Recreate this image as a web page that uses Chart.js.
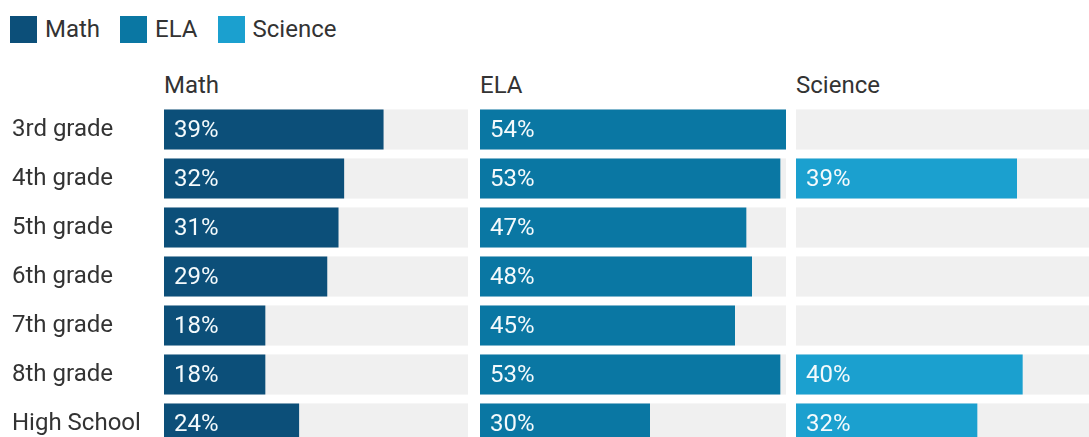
<!DOCTYPE html>
<html lang="en">
  <head>
    <meta charset="UTF-8" />
    <title>Proficiency by grade</title>
    <script src="https://cdn.jsdelivr.net/npm/chart.js"></script>
    <style>
      body {
        margin: 0;
        background: #fff;
        font-family: Roboto, "Open Sans", sans-serif;
      }
      .wrap {
        position: relative;
        width: 1089px;
        height: 437px;
        overflow: hidden;
        background: #fff;
      }
      .legend {
        position: absolute;
        left: 10px;
        top: 15px;
        display: flex;
        align-items: center;
        font-size: 24px;
        color: #333;
      }
      .legend-item {
        display: flex;
        align-items: center;
        margin-right: 20px;
      }
      .legend-dot {
        width: 27px;
        height: 27px;
        margin-right: 8px;
      }
      .panel-title {
        position: absolute;
        top: 71px;
        font-size: 24px;
        color: #333;
      }
      .panel {
        position: absolute;
        top: 105px;
        height: 343px;
      }
    </style>
  </head>
  <body>
    <div class="wrap">
      <div class="legend" id="legend"></div>
      <div class="panel-title" style="left: 164px">Math</div>
      <div class="panel-title" style="left: 480px">ELA</div>
      <div class="panel-title" style="left: 796px">Science</div>
      <div class="panel" style="left: 0px; width: 468px">
        <canvas id="mathChart"></canvas>
      </div>
      <div class="panel" style="left: 480px; width: 306px">
        <canvas id="elaChart"></canvas>
      </div>
      <div class="panel" style="left: 796px; width: 306px">
        <canvas id="scienceChart"></canvas>
      </div>
    </div>

    <script>
      var grades = [
        "3rd grade",
        "4th grade",
        "5th grade",
        "6th grade",
        "7th grade",
        "8th grade",
        "High School",
      ];
      var mathValues = [39, 32, 31, 29, 18, 18, 24];
      var elaValues = [54, 53, 47, 48, 45, 53, 30];
      var scienceValues = [null, 39, null, null, null, 40, 32];
      var subjects = ["Math", "ELA", "Science"];
      var subjectColors = ["#0c4f79", "#0a77a3", "#1ba0cf"];
      var scaleMax = 54;

      var barPct = 0.82;
      var labelFont = { family: "Roboto", size: 24 };

      // html legend
      var legend = document.getElementById("legend");
      subjects.forEach(function (name, i) {
        var item = document.createElement("div");
        item.className = "legend-item";
        item.innerHTML =
          '<span class="legend-dot" style="background-color:' +
          subjectColors[i] +
          '"></span><span>' +
          name +
          "</span>";
        legend.appendChild(item);
      });

      // grey track behind each row
      var trackPlugin = {
        id: "track",
        beforeDatasetsDraw: function (chart) {
          var ctx = chart.ctx;
          var x = chart.scales.x;
          var y = chart.scales.y;
          var slot = (y.bottom - y.top) / grades.length;
          var h = slot * barPct;
          ctx.save();
          ctx.fillStyle = "#f0f0f0";
          grades.forEach(function (g, i) {
            var yc = y.getPixelForValue(i);
            ctx.fillRect(x.left, yc - h / 2, x.right - x.left, h);
          });
          ctx.restore();
        },
      };

      // value labels inside the bars
      var valuePlugin = {
        id: "values",
        afterDatasetsDraw: function (chart) {
          var ctx = chart.ctx;
          var meta = chart.getDatasetMeta(0);
          var data = chart.data.datasets[0].data;
          ctx.save();
          ctx.fillStyle = "#f4fafc";
          ctx.font = "24px Roboto";
          ctx.textBaseline = "middle";
          ctx.textAlign = "left";
          meta.data.forEach(function (bar, i) {
            if (data[i] == null) return;
            ctx.fillText(data[i] + "%", bar.base + 10, bar.y + 1);
          });
          ctx.restore();
        },
      };

      function makeChart(id, values, color, showLabels) {
        var ctx = document.getElementById(id).getContext("2d");
        return new Chart(ctx, {
          type: "bar",
          data: {
            labels: grades,
            datasets: [
              {
                data: values,
                backgroundColor: color,
                borderWidth: 0,
                barPercentage: barPct,
                categoryPercentage: 1,
              },
            ],
          },
          options: {
            indexAxis: "y",
            responsive: true,
            maintainAspectRatio: false,
            animation: false,
            layout: {
              padding: { left: showLabels ? 12 : 0, right: 0, top: 0, bottom: 0 },
            },
            plugins: {
              legend: { display: false },
              tooltip: { enabled: false },
            },
            scales: {
              x: {
                display: false,
                min: 0,
                max: scaleMax,
              },
              y: {
                display: showLabels,
                grid: { display: false },
                border: { display: false },
                ticks: {
                  crossAlign: "far",
                  color: "#333",
                  font: labelFont,
                },
                afterFit: function (scale) {
                  if (showLabels) {
                    scale.width = 152;
                    // keep rows aligned with the other panels
                    scale.paddingTop = 0;
                    scale.paddingBottom = 0;
                  }
                },
              },
            },
          },
          plugins: [trackPlugin, valuePlugin],
        });
      }

      makeChart("mathChart", mathValues, subjectColors[0], true);
      makeChart("elaChart", elaValues, subjectColors[1], false);
      makeChart("scienceChart", scienceValues, subjectColors[2], false);
    </script>
  </body>
</html>
